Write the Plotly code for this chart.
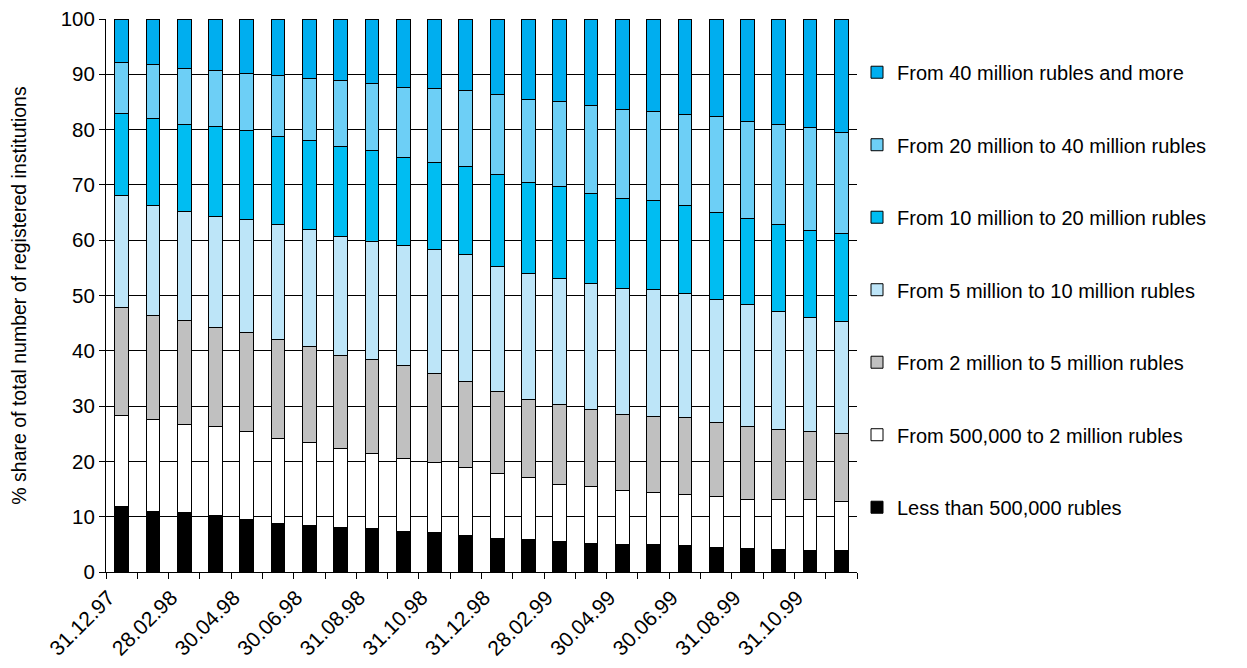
import plotly.graph_objects as go
import numpy as np

dates = ["31.12.97", "31.01.98", "28.02.98", "31.03.98", "30.04.98", "31.05.98",
         "30.06.98", "31.07.98", "31.08.98", "30.09.98", "31.10.98", "30.11.98",
         "31.12.98", "31.01.99", "28.02.99", "31.03.99", "30.04.99", "31.05.99",
         "30.06.99", "31.07.99", "31.08.99", "30.09.99", "31.10.99", "30.11.99"]
tick_labels = [d if i % 2 == 0 else "" for i, d in enumerate(dates)]

# Cumulative upper boundaries (percent), bottom to top
top_lt500k = [11.8, 11.0, 10.7, 10.2, 9.5, 8.8, 8.4, 8.1, 7.9, 7.4, 7.2, 6.6,
              6.1, 5.8, 5.5, 5.2, 4.9, 4.9, 4.8, 4.5, 4.2, 4.1, 3.9, 3.8]
top_500k_2m = [28.3, 27.6, 26.7, 26.3, 25.4, 24.2, 23.5, 22.3, 21.5, 20.5, 19.8, 18.9,
               17.8, 17.0, 15.8, 15.4, 14.7, 14.4, 14.1, 13.6, 13.2, 13.1, 13.1, 12.7]
top_2m_5m = [47.8, 46.3, 45.5, 44.2, 43.4, 42.1, 40.8, 39.1, 38.4, 37.3, 35.9, 34.5,
             32.7, 31.2, 30.2, 29.4, 28.4, 28.2, 27.9, 27.0, 26.4, 25.7, 25.4, 25.0]
top_5m_10m = [68.0, 66.3, 65.2, 64.3, 63.7, 62.9, 62.0, 60.7, 59.8, 59.1, 58.3, 57.5,
              55.3, 54.0, 53.0, 52.1, 51.3, 51.1, 50.4, 49.3, 48.3, 47.1, 46.1, 45.3]
top_10m_20m = [83.0, 82.0, 81.0, 80.5, 79.8, 78.7, 78.0, 77.0, 76.2, 74.9, 74.0, 73.4,
               71.8, 70.4, 69.8, 68.5, 67.6, 67.1, 66.2, 65.0, 63.9, 62.8, 61.7, 61.2]
top_20m_40m = [92.2, 91.7, 91.0, 90.7, 90.2, 89.8, 89.2, 88.8, 88.4, 87.6, 87.5, 87.0,
               86.3, 85.5, 85.0, 84.4, 83.7, 83.2, 82.8, 82.3, 81.5, 80.9, 80.3, 79.5]
top_40m_plus = [100.0] * 24

series_names = ["Less than 500,000 rubles",
                "From 500,000 to 2 million rubles",
                "From 2 million to 5 million rubles",
                "From 5 million to 10 million rubles",
                "From 10 million to 20 million rubles",
                "From 20 million to 40 million rubles",
                "From 40 million rubles and more"]
series_colors = ["#000000", "#FFFFFF", "#C0C0C0", "#BDE5F8", "#00BDF2", "#6DCFF6", "#00AEEF"]

tops = [top_lt500k, top_500k_2m, top_2m_5m, top_5m_10m, top_10m_20m, top_20m_40m, top_40m_plus]

fig = go.Figure()
prev = np.zeros(len(dates))
n = len(series_names)
for i, (name, color, top) in enumerate(zip(series_names, series_colors, tops)):
    t = np.array(top)
    fig.add_trace(go.Bar(
        x=dates, y=t - prev, name=name,
        marker=dict(color=color, line=dict(color="#000000", width=1)),
        legendgroup=name,
        legendrank=n - i,
    ))
    prev = t

FONT = "Liberation Sans, Arial, Helvetica, sans-serif"
fig.update_layout(
    barmode="stack",
    bargap=0.56,
    width=1247, height=668,
    # page body has an 8px offset, so margins are shifted accordingly
    margin=dict(l=98, r=398, t=11, b=104, autoexpand=False),
    paper_bgcolor="white", plot_bgcolor="white",
    font=dict(family=FONT, color="#000000", size=20),
    showlegend=True,
    legend=dict(
        traceorder="grouped",
        x=1.0, xanchor="left", y=0.939, yanchor="top",
        font=dict(family=FONT, size=20, color="#000000"),
        tracegroupgap=43.5,
        itemwidth=30,
        bgcolor="rgba(0,0,0,0)",
    ),
    yaxis=dict(
        range=[0, 100], dtick=10, tick0=0,
        showgrid=True, gridcolor="#000000", gridwidth=1,
        showline=True, linecolor="#000000", linewidth=1,
        ticks="outside", ticklen=6, tickcolor="#000000",
        tickfont=dict(family=FONT, size=20.5),
        ticklabeloverflow="allow",
        title=dict(text="% share of total number of registered institutions",
                   font=dict(family=FONT, size=19.5), standoff=36),
        zeroline=False,
        automargin=False,
    ),
    xaxis=dict(
        type="category",
        tickmode="array", tickvals=dates, ticktext=tick_labels,
        tickson="boundaries",
        tickangle=-45,
        ticks="outside", ticklen=6, tickcolor="#000000",
        showline=True, linecolor="#000000", linewidth=1,
        showgrid=False,
        tickfont=dict(family=FONT, size=21),
        ticklabelshift=-13,
        ticklabelstandoff=4,
        ticklabeloverflow="allow",
        automargin=False,
    ),
)

fig.write_html("out.html")
